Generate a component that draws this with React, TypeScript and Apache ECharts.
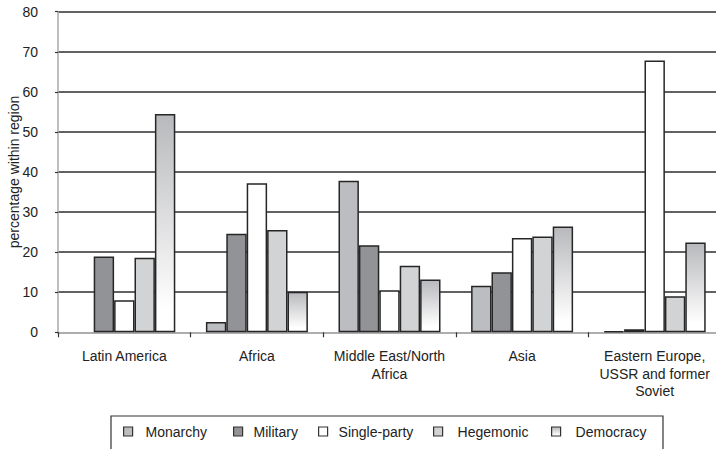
import React, { useEffect, useRef } from "react";
import * as echarts from "echarts";

const categories = [
  "Latin America",
  "Africa",
  "Middle East/North\nAfrica",
  "Asia",
  "Eastern Europe,\nUSSR and former\nSoviet",
];
const seriesNames = ["Monarchy", "Military", "Single-party", "Hegemonic", "Democracy"];
const monarchy = [null, 2.6, 37.8, 11.6, 0.25];
const military = [18.9, 24.6, 21.7, 15.0, 0.75];
const singleParty = [8.0, 37.2, 10.5, 23.5, 67.8];
const hegemonic = [18.6, 25.5, 16.6, 23.9, 9.0];
const democracy = [54.5, 10.1, 13.2, 26.4, 22.4];
const yTicks = [0, 10, 20, 30, 40, 50, 60, 70, 80];

const FONT = "'Liberation Sans', Arial, sans-serif";
const TEXT = "#222";

export default function App() {
  const ref = useRef<HTMLDivElement>(null);
  useEffect(() => {
    document.body.style.margin = "0";
    const chart = echarts.init(ref.current!, null, { renderer: "svg" });
    const democracyFill = new echarts.graphic.LinearGradient(0, 0, 0, 1, [
      { offset: 0, color: "#b8b9bc" },
      { offset: 0.9, color: "#ffffff" },
      { offset: 1, color: "#ffffff" },
    ]);
    const fills = ["#bcbdc0", "#929396", "#ffffff", "#d2d3d5", democracyFill];
    const values = [monarchy, military, singleParty, hegemonic, democracy];
    const legendX = [123, 233, 318, 433, 551];
    const legendPad = [8, 6, 6, 10, 10];

    const splitColors = yTicks.map((v, i) => (i === 0 ? "#a8a8a8" : "#2e2e2e"));

    chart.setOption({
      animation: false,
      textStyle: { fontFamily: FONT },
      grid: {
        left: 58,
        top: 11.7,
        width: 663,
        height: 320.6,
        containLabel: false,
        outerBoundsMode: "none",
      },
      xAxis: {
        type: "category",
        data: categories,
        axisLine: { lineStyle: { color: "#a8a8a8", width: 1.5 } },
        axisTick: { show: true, length: 5, lineStyle: { color: "#333", width: 1.2 } },
        axisLabel: {
          interval: 0,
          fontSize: 14,
          lineHeight: 17.5,
          margin: 15,
          color: TEXT,
          fontFamily: FONT,
        },
      },
      yAxis: {
        type: "value",
        min: 0,
        max: 80,
        interval: 10,
        name: "percentage within region",
        nameLocation: "middle",
        nameGap: 37,
        nameMoveOverlap: false,
        nameTextStyle: { fontSize: 14, color: TEXT, fontFamily: FONT },
        axisLine: { show: true, lineStyle: { color: "#a8a8a8", width: 1.5 } },
        axisTick: { show: true, length: 3, lineStyle: { color: "#333", width: 1.2 } },
        axisLabel: { fontSize: 14, color: TEXT, margin: 20, fontFamily: FONT },
        splitLine: { show: true, lineStyle: { color: splitColors, width: 1.5 } },
      },
      legend: seriesNames.map((name, i) => ({
        data: [name],
        left: legendX[i],
        top: 424.5,
        padding: 0,
        itemWidth: 9,
        itemHeight: 9,
        icon: "rect",
        itemStyle: { borderColor: "#333", borderWidth: 1.2 },
        formatter: "{a|" + name + "}",
        textStyle: {
          fontFamily: FONT,
          fontSize: 14,
          color: TEXT,
          rich: { a: { fontSize: 14, color: TEXT, fontFamily: FONT, padding: [0, 0, 0, legendPad[i]] } },
        },
      })),
      graphic: [
        {
          type: "rect",
          shape: { x: 111, y: 416, width: 552, height: 60 },
          style: { fill: "none", stroke: "#333", lineWidth: 1.2 },
          silent: true,
        },
      ],
      series: seriesNames.map((name, i) => ({
        name,
        type: "bar",
        data: values[i],
        barWidth: 20.4,
        barGap: "0%",
        itemStyle: { color: fills[i], borderColor: "#262626", borderWidth: 1.5 },
      })),
    });
    return () => chart.dispose();
  }, []);
  return <div ref={ref} style={{ width: 716, height: 449 }} />;
}
